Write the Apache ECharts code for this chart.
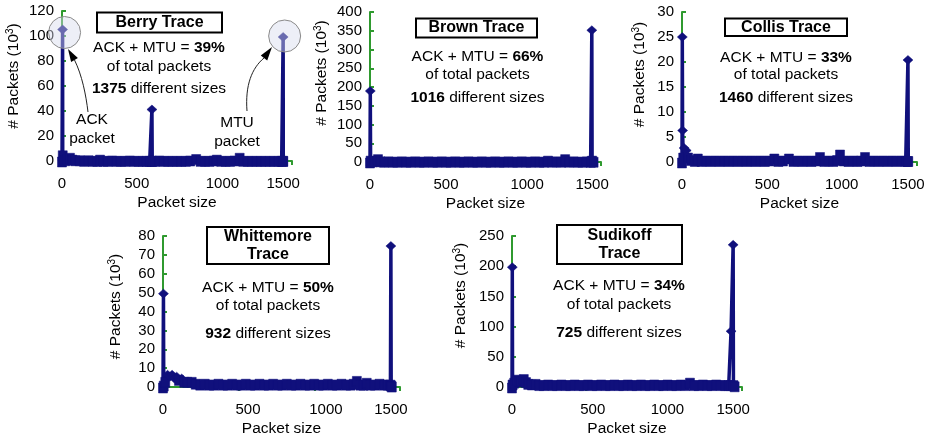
<!DOCTYPE html>
<html><head><meta charset="utf-8">
<script src="https://cdn.jsdelivr.net/npm/echarts@6/dist/echarts.min.js"></script>
<style>html,body{margin:0;padding:0;background:#fff}#c{width:938px;height:439px}</style>
</head><body><div id="c"></div>
<script>
// ---- data (packet size in bytes, packet count in thousands) ----
const traceNames = ['Berry Trace', 'Brown Trace', 'Collis Trace', 'Whittemore\nTrace', 'Sudikoff\nTrace'];
const ackMtuPercent = [39, 66, 33, 50, 34];
const distinctSizes = [1375, 1016, 1460, 932, 725];
const xTicks = [0, 500, 1000, 1500];
const yMax = [120, 400, 30, 80, 250];
const yStep = [20, 50, 5, 10, 50];

const berry = [[0,0],[4,106],[5,5],[12,2],[22,1],[35,2],[54,3],[70,1.5],[90,1],[120,1],[150,0.5],[180,1],[210,0.5],[240,0.5],[258,1.5],[280,0.5],[310,0.5],[340,0.8],[370,0.5],[400,0.5],[430,0.5],[460,0.8],[490,0.5],[520,0.5],[550,0.5],[575,0.5],[595,0.5],[608,0.5],[610,42],[612,0.5],[630,0.5],[660,0.8],[690,0.5],[720,0.5],[750,0.5],[780,0.5],[810,0.5],[840,0.5],[870,0.8],[910,2],[940,0.5],[970,0.5],[1000,0.5],[1030,0.8],[1050,1.5],[1080,0.5],[1110,0.5],[1140,0.5],[1170,0.8],[1205,3],[1230,0.5],[1260,0.5],[1290,0.5],[1320,0.5],[1350,0.5],[1380,0.5],[1410,0.5],[1440,0.5],[1470,0.5],[1490,0.5],[1499,0.5],[1500,100],[1501,0.5]];
const brown = [[0,0],[2,192],[4,5],[15,3],[30,4],[54,9],[70,3],[95,2],[125,3],[155,2],[185,2],[215,3],[245,2],[275,2],[305,3],[335,2],[365,2],[395,3],[425,2],[455,2],[485,3],[515,2],[545,2],[575,3],[605,2],[635,2],[665,3],[695,2],[725,2],[755,3],[785,2],[815,2],[845,3],[875,2],[905,2],[935,3],[965,2],[995,2],[1025,3],[1055,2],[1085,2],[1115,3],[1145,2],[1175,2],[1202,5],[1230,2],[1260,3],[1290,2],[1318,9],[1345,2],[1375,3],[1405,2],[1435,2],[1465,3],[1490,2],[1496,3],[1498,354],[1500,5],[1510,2]];
const collis = [[0,0],[2,25.2],[4,6.5],[8,1],[14,3],[28,2.5],[40,1],[60,0.5],[85,0.3],[105,0.8],[130,0.3],[160,0.4],[190,0.3],[220,0.4],[250,0.3],[280,0.4],[310,0.3],[340,0.4],[370,0.3],[400,0.4],[430,0.3],[460,0.4],[490,0.3],[520,0.4],[550,0.3],[580,0.4],[613,0.8],[640,0.3],[670,0.4],[710,0.8],[740,0.3],[770,0.4],[800,0.3],[830,0.4],[860,0.3],[890,0.4],[916,1.1],[945,0.3],[975,0.4],[1005,0.3],[1030,0.5],[1049,1.6],[1075,0.4],[1105,0.3],[1135,0.4],[1165,0.3],[1190,0.4],[1215,1.1],[1245,0.3],[1275,0.4],[1305,0.3],[1335,0.4],[1365,0.3],[1395,0.4],[1425,0.3],[1455,0.4],[1485,0.3],[1498,0.3],[1500,20.6],[1502,0.3]];
const whittemore = [[0,0],[3,50],[5,1],[15,3],[30,7],[45,6],[60,7],[75,5],[90,6],[105,4],[123,5],[140,3],[160,3],[189,3],[215,2],[245,1.5],[275,2],[305,1.5],[335,1.5],[365,2],[395,1.5],[425,1.5],[455,2],[485,1.5],[515,1.5],[545,2],[575,1.5],[605,1.5],[635,2],[665,1.5],[695,1.5],[725,2],[755,1.5],[785,1.5],[815,2],[845,1.5],[875,1.5],[905,2],[935,1.5],[965,1.5],[995,2],[1025,1.5],[1055,1.5],[1085,2],[1115,1.5],[1145,1.5],[1175,2],[1205,1.5],[1235,1.5],[1255,2],[1276,3.5],[1300,1.5],[1320,1.5],[1341,2.5],[1365,1.5],[1395,1.5],[1425,2],[1455,1.5],[1480,1.5],[1497,1.5],[1500,75.2],[1502,1],[1506,0.5]];
const sudikoff = [[0,0],[2,200],[4,5],[15,8],[32,13],[45,10],[60,11],[80,14],[95,9],[110,6],[135,5],[160,6],[185,4],[215,4],[245,5],[275,4],[305,4],[335,5],[365,4],[395,4],[425,5],[455,4],[485,4],[515,5],[545,4],[575,4],[605,5],[635,4],[665,4],[695,5],[725,4],[755,4],[785,5],[815,4],[845,4],[875,5],[905,4],[935,4],[965,5],[995,4],[1025,4],[1055,5],[1085,4],[1115,4],[1145,5],[1175,4],[1207,8],[1235,4],[1265,4],[1295,5],[1325,4],[1355,4],[1385,5],[1415,4],[1445,4],[1470,4],[1483,4],[1486,94],[1500,237],[1502,4],[1510,2]];
const traces = [berry, brown, collis, whittemore, sudikoff];

// ---- layout ----
const FONT = 'Liberation Sans, Arial, sans-serif';
const NAVY = '#10107c';
const GREEN = '#2f9a2f';
const grids = [
  {left: 62, top: 11, width: 230, height: 150},
  {left: 370, top: 12, width: 231, height: 150},
  {left: 682, top: 12, width: 235, height: 150},
  {left: 163, top: 236, width: 237, height: 151},
  {left: 512, top: 236, width: 230, height: 151}
];
// horizontal nudges (px) of the "500" and "1000" tick labels, as placed in the original figure
const xLabelNudge = [[1, 13], [2, 9], [10, 9], [9, 11], [7, 8]];
const yNameGap = [39, 39, 33, 38, 42];
const yNameShift = [20, 28, 25, 10, 32];
const titleBoxes = [[97,12.5,125,20],[416,18.5,121,19],[725,18.5,122,17.5],[207,227,122,37],[557,225,125,39]];
const noteCenters = [[159,[48,66.7,88.3]],[477.5,[56.7,75,97.3]],[786,[57.3,75,97.3]],[268,[287.7,305.7,334]],[619,[285.7,304.3,332.3]]];

const chart = echarts.init(document.getElementById('c'), null, {renderer: 'canvas'});

const lblStyle = {fontFamily: FONT, fontSize: 15, color: '#000'};
const xAxes = grids.map((g, i) => ({
  type: 'value', gridIndex: i, min: xTicks[0], max: 1560, interval: xTicks[1] - xTicks[0],
  name: 'Packet size', nameLocation: 'middle', nameGap: 34,
  nameTextStyle: {fontFamily: FONT, fontSize: 15.5, color: '#000'},
  axisLine: {show: true, onZero: false, lineStyle: {color: GREEN, width: 2}},
  axisTick: {show: true, inside: false, length: 4, lineStyle: {color: GREEN, width: 2}},
  axisLabel: Object.assign({}, lblStyle, {margin: 15,
    rich: {
      n: lblStyle,
      a: Object.assign({}, lblStyle, {padding: [0, 0, 0, 2 * xLabelNudge[i][0]]}),
      b: Object.assign({}, lblStyle, {padding: [0, 0, 0, 2 * xLabelNudge[i][1]]})
    },
    formatter: v => v === xTicks[1] ? '{a|' + v + '}' : v === xTicks[2] ? '{b|' + v + '}' : (xTicks.indexOf(v) >= 0 ? '{n|' + v + '}' : '')}),
  splitLine: {show: false}
}));
const yAxes = grids.map((g, i) => ({
  type: 'value', gridIndex: i, min: 0, max: yMax[i], interval: yStep[i],
  name: '# Packets (10{sup|3})', nameLocation: 'middle', nameGap: yNameGap[i],
  nameTextStyle: {fontFamily: FONT, fontSize: 15.5, color: '#000', padding: [0, 0, 0, yNameShift[i]],
    rich: {sup: {fontFamily: FONT, fontSize: 10, color: '#000', verticalAlign: 'top', padding: [0, 0, 8, 0]}}},
  axisLine: {show: true, lineStyle: {color: GREEN, width: 2}},
  axisTick: {show: true, inside: true, length: 4, lineStyle: {color: GREEN, width: 2}},
  axisLabel: Object.assign({}, lblStyle, {margin: 8}),
  splitLine: {show: false}
}));
// dense near-zero markers merge into a solid band (as in the original); peaks keep diamond markers
const series = traces.map((d, i) => {
  const small = v => v[1] < yMax[i] * 0.06;
  return {
    type: 'line', xAxisIndex: i, yAxisIndex: i, data: d,
    symbol: v => small(v) ? 'rect' : 'diamond',
    symbolSize: v => small(v) ? [9, 10] : [10, 9],
    showAllSymbol: true, symbolOffset: [0, 1],
    lineStyle: {color: NAVY, width: 3.5},
    itemStyle: {color: NAVY, borderColor: NAVY, borderWidth: 0.5},
    emphasis: {disabled: true}, z: 3
  };
});

chart.setOption({
  animation: false,
  backgroundColor: '#fff',
  grid: grids.map(g => Object.assign({containLabel: false}, g)),
  xAxis: xAxes, yAxis: yAxes, series: series
});

// ---- annotations ----
const graphics = [];
titleBoxes.forEach((b, i) => {
  graphics.push({type: 'rect', shape: {x: b[0], y: b[1], width: b[2], height: b[3]},
    style: {fill: '#fff', stroke: '#000', lineWidth: 2}, z: 50});
  graphics.push({type: 'text', x: b[0] + b[2] / 2, y: b[1] + b[3] / 2, z: 51,
    style: {text: traceNames[i], font: 'bold 16px ' + FONT, fill: '#000', align: 'center', verticalAlign: 'middle', lineHeight: 18.5}});
});
noteCenters.forEach((n, i) => {
  const cx = n[0], ys = n[1];
  const rich = {r: {font: '15.5px ' + FONT, fill: '#000'}, b: {font: 'bold 15.5px ' + FONT, fill: '#000'}};
  graphics.push({type: 'text', x: cx, y: ys[0], z: 51, style: {text: '{r|ACK + MTU = }{b|' + ackMtuPercent[i] + '%}', rich, align: 'center', verticalAlign: 'middle'}});
  graphics.push({type: 'text', x: cx, y: ys[1], z: 51, style: {text: 'of total packets', font: '15.5px ' + FONT, fill: '#000', align: 'center', verticalAlign: 'middle'}});
  graphics.push({type: 'text', x: cx, y: ys[2], z: 51, style: {text: '{b|' + distinctSizes[i] + '}{r| different sizes}', rich, align: 'center', verticalAlign: 'middle'}});
});
// ACK / MTU labels in Berry panel
graphics.push({type: 'text', x: 92, y: 129, z: 51, style: {text: 'ACK\npacket', font: '15.5px ' + FONT, fill: '#000', align: 'center', verticalAlign: 'middle', lineHeight: 18.5}});
graphics.push({type: 'text', x: 237, y: 132, z: 51, style: {text: 'MTU\npacket', font: '15.5px ' + FONT, fill: '#000', align: 'center', verticalAlign: 'middle', lineHeight: 18.5}});
// circles around ACK and MTU peaks (positioned from data)
const ackPeak = berry.reduce((a, b) => (b[0] < 100 && b[1] > a[1]) ? b : a, [0, -1]);
const mtuPeak = berry.reduce((a, b) => (b[0] > 1400 && b[1] > a[1]) ? b : a, [0, -1]);
[[ackPeak, 2, 4], [mtuPeak, 1.5, 0]].forEach(p => {
  const px = chart.convertToPixel({gridIndex: 0}, p[0]);
  graphics.push({type: 'circle', shape: {cx: px[0] + p[1], cy: px[1] + p[2], r: 16},
    style: {fill: 'rgba(215,220,238,0.45)', stroke: '#8a8a8a', lineWidth: 1}, z: 60});
});
// arrows
graphics.push({type: 'bezierCurve', shape: {x1: 88, y1: 112, cpx1: 86, cpy1: 95, cpx2: 82, cpy2: 75, x2: 74.5, y2: 60},
  style: {stroke: '#222', lineWidth: 1, fill: null}, z: 61});
graphics.push({type: 'polygon', shape: {points: [[68, 49], [77.9, 58], [71.1, 62]]}, style: {fill: '#000'}, z: 61});
graphics.push({type: 'bezierCurve', shape: {x1: 247, y1: 111, cpx1: 245, cpy1: 85, cpx2: 252, cpy2: 68, x2: 264, y2: 58},
  style: {stroke: '#222', lineWidth: 1, fill: null}, z: 61});
graphics.push({type: 'polygon', shape: {points: [[272, 47], [267.2, 60.4], [260.8, 55.6]]}, style: {fill: '#000'}, z: 61});

chart.setOption({graphic: graphics});
</script>
</body></html>
